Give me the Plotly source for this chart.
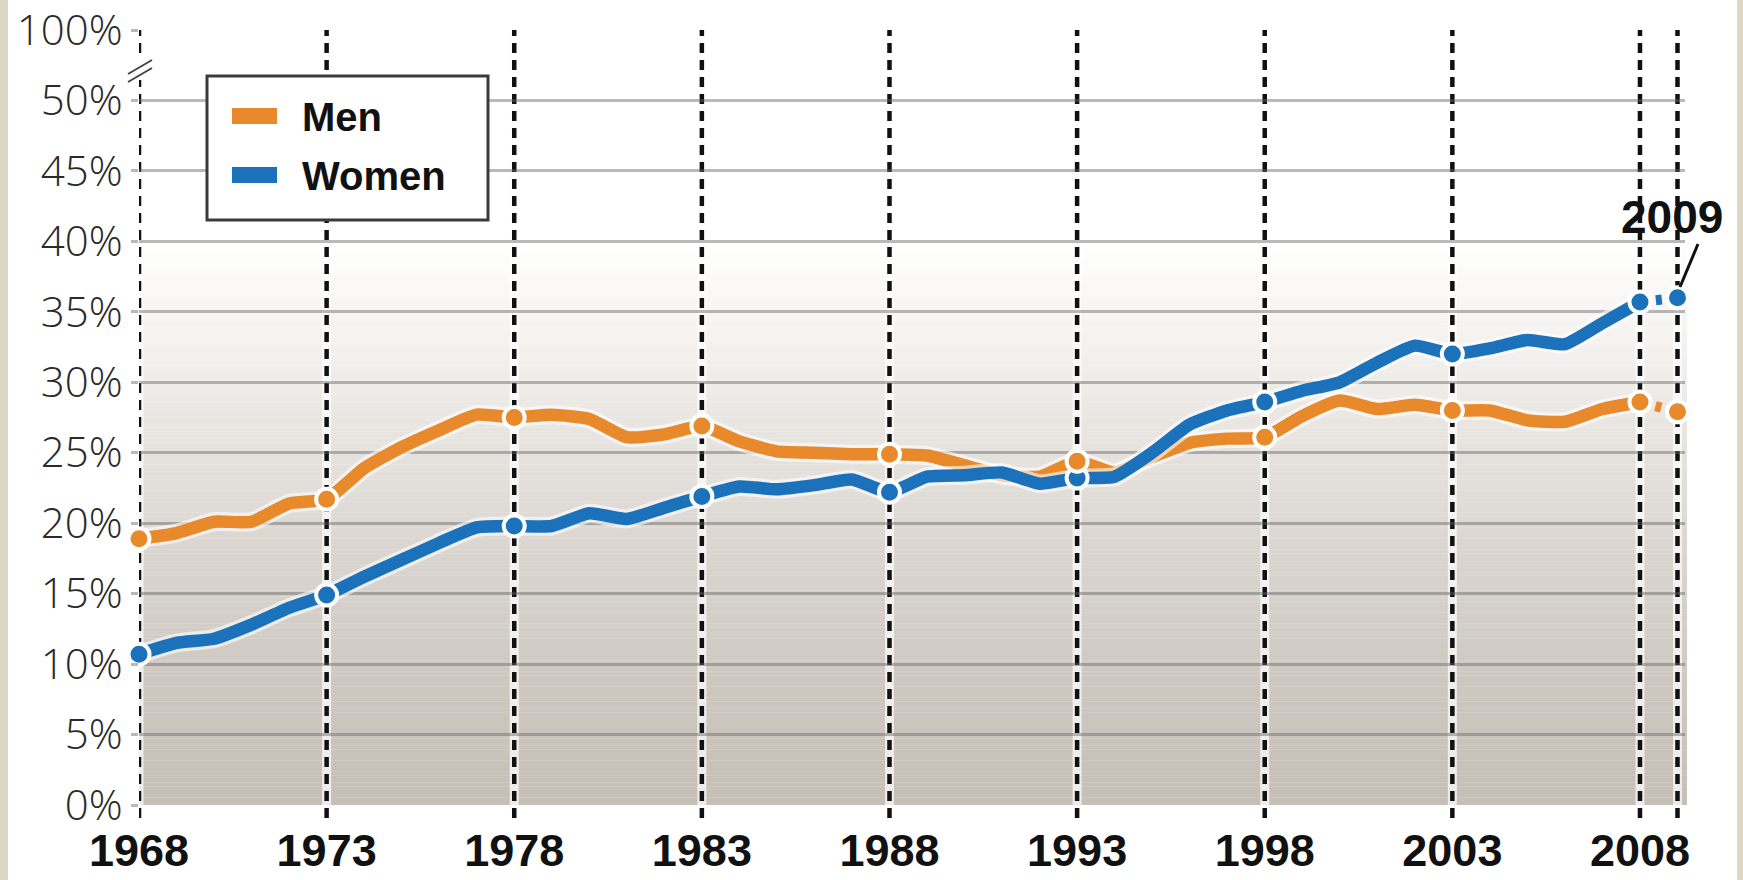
import plotly.graph_objects as go

# ---- data -------------------------------------------------------------
years = list(range(1968, 2010))

men = [18.9, 19.3, 20.1, 20.1, 21.4, 21.7, 23.9, 25.4, 26.6, 27.7,
       27.5, 27.7, 27.4, 26.1, 26.3, 26.9, 25.8, 25.1, 25.0, 24.9,
       24.9, 24.8, 24.1, 23.4, 23.3, 24.4, 23.6, 24.7, 25.7, 26.0,
       26.1, 27.6, 28.7, 28.1, 28.4, 28.0, 28.0, 27.3, 27.2, 28.1,
       28.6, 27.9]

women = [10.7, 11.5, 11.8, 12.8, 14.0, 14.9, 16.2, 17.4, 18.6, 19.7,
         19.8, 19.8, 20.7, 20.3, 21.1, 21.9, 22.6, 22.4, 22.7, 23.1,
         22.2, 23.3, 23.4, 23.6, 22.8, 23.2, 23.3, 25.0, 27.0, 28.0,
         28.6, 29.4, 30.0, 31.4, 32.6, 32.0, 32.4, 33.0, 32.7, 34.2,
         35.7, 36.0]

tick_years = [1968, 1973, 1978, 1983, 1988, 1993, 1998, 2003, 2008]
marker_years = tick_years + [2009]

# the axis is broken above 50%: the top tick stands for 100%
y_tick_vals = [0, 5, 10, 15, 20, 25, 30, 35, 40, 45, 50, 55]
y_tick_text = ["0%", "5%", "10%", "15%", "20%", "25%", "30%", "35%",
               "40%", "45%", "50%", "100%"]

ORANGE = "#E8892B"
BLUE = "#1B72BA"

# ---- geometry helpers (pixel -> paper) --------------------------------
W, H = 1743, 880
L, R, T, B = 139, 58, 30, 75
PW, PH = W - L - R, H - T - B


def px(x):
    return (x - L) / PW


def py(y):
    return (H - B - y) / PH


fig = go.Figure()


def series(name, vals, color):
    solid_x = [y for y in years if y <= 2008]
    solid_y = [v for y, v in zip(years, vals) if y <= 2008]
    tail_x = [2008, 2009]
    tail_y = [vals[years.index(2008)], vals[years.index(2009)]]
    # soft white halo under the line
    fig.add_trace(go.Scatter(x=solid_x, y=solid_y, mode="lines",
                             line=dict(color="rgba(255,255,255,0.6)", width=19,
                                       shape="spline", smoothing=0.5),
                             hoverinfo="skip", showlegend=False))
    fig.add_trace(go.Scatter(x=solid_x, y=solid_y, mode="lines", name=name,
                             line=dict(color=color, width=12.5,
                                       shape="spline", smoothing=0.5),
                             showlegend=False))
    fig.add_trace(go.Scatter(x=tail_x, y=tail_y, mode="lines",
                             line=dict(color=color, width=10, dash="6px,10px"),
                             hoverinfo="skip", showlegend=False))


def dots(vals, color):
    mx = marker_years
    my = [vals[years.index(y)] for y in mx]
    fig.add_trace(go.Scatter(x=mx, y=my, mode="markers",
                             marker=dict(color=color, size=21,
                                         line=dict(color="white", width=4)),
                             cliponaxis=False, showlegend=False,
                             hoverinfo="skip"))


series("Men", men, ORANGE)
series("Women", women, BLUE)
dots(women, BLUE)
dots(men, ORANGE)

shapes = []

# vertical background gradient (white above ~40%, warm grey at the base)
stops = [(0, (198, 191, 183)), (8, (205, 199, 192)), (18, (218, 213, 207)),
         (27, (233, 230, 226)), (34, (246, 244, 242)), (40, (255, 255, 255)),
         (56, (255, 255, 255))]


def grad(v):
    for (a, ca), (b, cb) in zip(stops, stops[1:]):
        if a <= v <= b:
            t = (v - a) / (b - a)
            return "rgb(%d,%d,%d)" % tuple(round(ca[i] + t * (cb[i] - ca[i])) for i in range(3))
    return "white"


N = 160
for i in range(N):
    y0 = 42 * i / N
    y1 = 42 * (i + 1) / N
    shapes.append(dict(type="rect", xref="paper", yref="y", layer="below",
                       x0=0, x1=px(1687), y0=y0, y1=y1 + 0.02,
                       fillcolor=grad((y0 + y1) / 2), line=dict(width=0)))

# dashed year markers
for yr in marker_years:
    for col, w, dash in [("rgba(255,255,255,0.7)", 9, "solid"),
                         ("#111111", 4.5, "10px,7px")]:
        shapes.append(dict(type="line", xref="x", yref="paper", layer="between",
                           x0=yr, x1=yr, y0=py(818), y1=1,
                           line=dict(color=col, width=w, dash=dash)))

# axis break mark between 50% and 100%
shapes.append(dict(type="rect", xref="paper", yref="paper", layer="above",
                   x0=px(130), x1=px(150), y0=py(80), y1=py(60),
                   fillcolor="white", line=dict(width=0)))
for off in (0, 8):
    shapes.append(dict(type="line", xref="paper", yref="paper", layer="above",
                       x0=px(128), y0=py(74 + off), x1=px(152), y1=py(60 + off),
                       line=dict(color="#444444", width=2)))

# legend box
shapes.append(dict(type="rect", xref="paper", yref="paper", layer="above",
                   x0=px(207), x1=px(488), y0=py(220), y1=py(76),
                   fillcolor="white", line=dict(color="#3a3a3a", width=3)))
for color, cy in [(ORANGE, 116), (BLUE, 175)]:
    shapes.append(dict(type="rect", xref="paper", yref="paper", layer="above",
                       x0=px(232), x1=px(277), y0=py(cy + 8), y1=py(cy - 8),
                       fillcolor=color, line=dict(width=0)))

# pointer for the 2009 label
shapes.append(dict(type="line", xref="paper", yref="paper", layer="above",
                   x0=px(1698), y0=py(244), x1=px(1680), y1=py(287),
                   line=dict(color="#111111", width=3)))

# side borders
shapes.append(dict(type="rect", xref="paper", yref="paper", layer="above",
                   x0=px(0), x1=px(8), y0=py(H), y1=py(0),
                   fillcolor="rgb(221,214,194)", line=dict(width=0)))
shapes.append(dict(type="rect", xref="paper", yref="paper", layer="above",
                   x0=px(1737), x1=px(W), y0=py(H), y1=py(0),
                   fillcolor="rgb(221,214,194)", line=dict(width=0)))

bold = dict(family="Liberation Sans, Arial, sans-serif", color="#111111",
            weight="bold")

annotations = [
    dict(xref="paper", yref="paper", x=px(300), y=py(117), text="Men",
         showarrow=False, xanchor="left", yanchor="middle",
         font=dict(size=40, **bold)),
    dict(xref="paper", yref="paper", x=px(300), y=py(176), text="Women",
         showarrow=False, xanchor="left", yanchor="middle",
         font=dict(size=40, **bold)),
    dict(xref="paper", yref="paper", x=px(1672), y=py(217), text="2009",
         showarrow=False, xanchor="center", yanchor="middle",
         font=dict(size=46, **bold)),
]

fig.update_layout(
    width=W, height=H,
    margin=dict(l=L, r=R, t=T, b=B, autoexpand=False),
    paper_bgcolor="white", plot_bgcolor="white",
    shapes=shapes, annotations=annotations,
    showlegend=False,
    xaxis=dict(range=[1968, 2009.2], tickvals=tick_years,
               ticktext=[str(y) for y in tick_years],
               showgrid=False, zeroline=False, showline=False, ticks="",
               automargin=False, ticklabelstandoff=15,
               ticklabeloverflow="allow",
               tickfont=dict(size=45, **bold)),
    yaxis=dict(range=[0, 55], tickvals=y_tick_vals, ticktext=y_tick_text,
               showgrid=True, gridcolor="rgba(100,100,100,0.45)", gridwidth=3,
               zeroline=False, showline=False, automargin=False,
               ticks="outside", ticklen=7, tickwidth=3,
               tickcolor="rgba(100,100,100,0.45)",
               ticklabeloverflow="allow",
               tickfont=dict(family="Open Sans, Liberation Sans, sans-serif",
                             size=42, color="#2a2a2a", weight=300)),
)

fig.write_html("out.html")
